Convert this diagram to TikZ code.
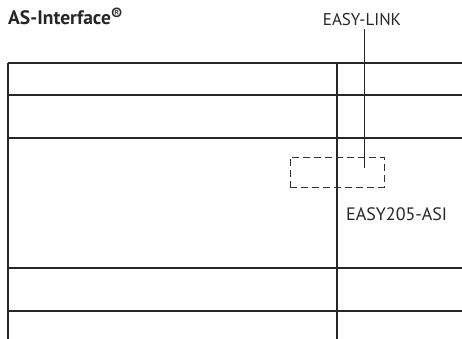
\documentclass[tikz,border=0pt]{standalone}
\usepackage{fontspec}
\setmainfont{PT Sans}
\begin{document}
\begin{tikzpicture}[x=1pt,y=-1pt,
  hline/.style={line width=1.2pt,black!85},
  vline/.style={line width=1.7pt,black!85},
  lbl/.style={inner sep=0pt,font=\fontsize{18}{21}\selectfont,text=black!85},
  dbox/.style={draw=black!80,dash pattern=on 7pt off 4pt,line width=0.8pt,minimum width=94pt,minimum height=30pt,inner sep=0pt,anchor=north west},
  lead/.style={line width=0.8pt,black!85}]
\useasboundingbox (0,0) rectangle (462,339);
% horizontal rails
\foreach \yy in {63,95,138,268,311}
  \draw[hline] (8,\yy) -- (462,\yy);
% vertical lines
\draw[vline] (8,63) -- (8,339);
\draw[vline] (337,63) -- (337,339);
% title
\node[lbl,anchor=base west,font=\fontsize{19.5}{22}\selectfont\bfseries] (title) at (8,25) {AS-Interface\raisebox{0.25em}{\fontsize{17}{18}\selectfont ®}};
% EASY-LINK label and lead
\node[lbl,anchor=base,font=\fontsize{17}{20}\selectfont] (link) at (362,26) {EASY-LINK};
\node[dbox] (asi) at (290,157) {};
\coordinate (leadend) at (364,168);
\draw[lead] (link.south -| leadend) ++(0,3) -- (leadend);
\node[lbl,anchor=base west] (asilbl) at (346,220) {EASY205-ASI};
\end{tikzpicture}
\end{document}
